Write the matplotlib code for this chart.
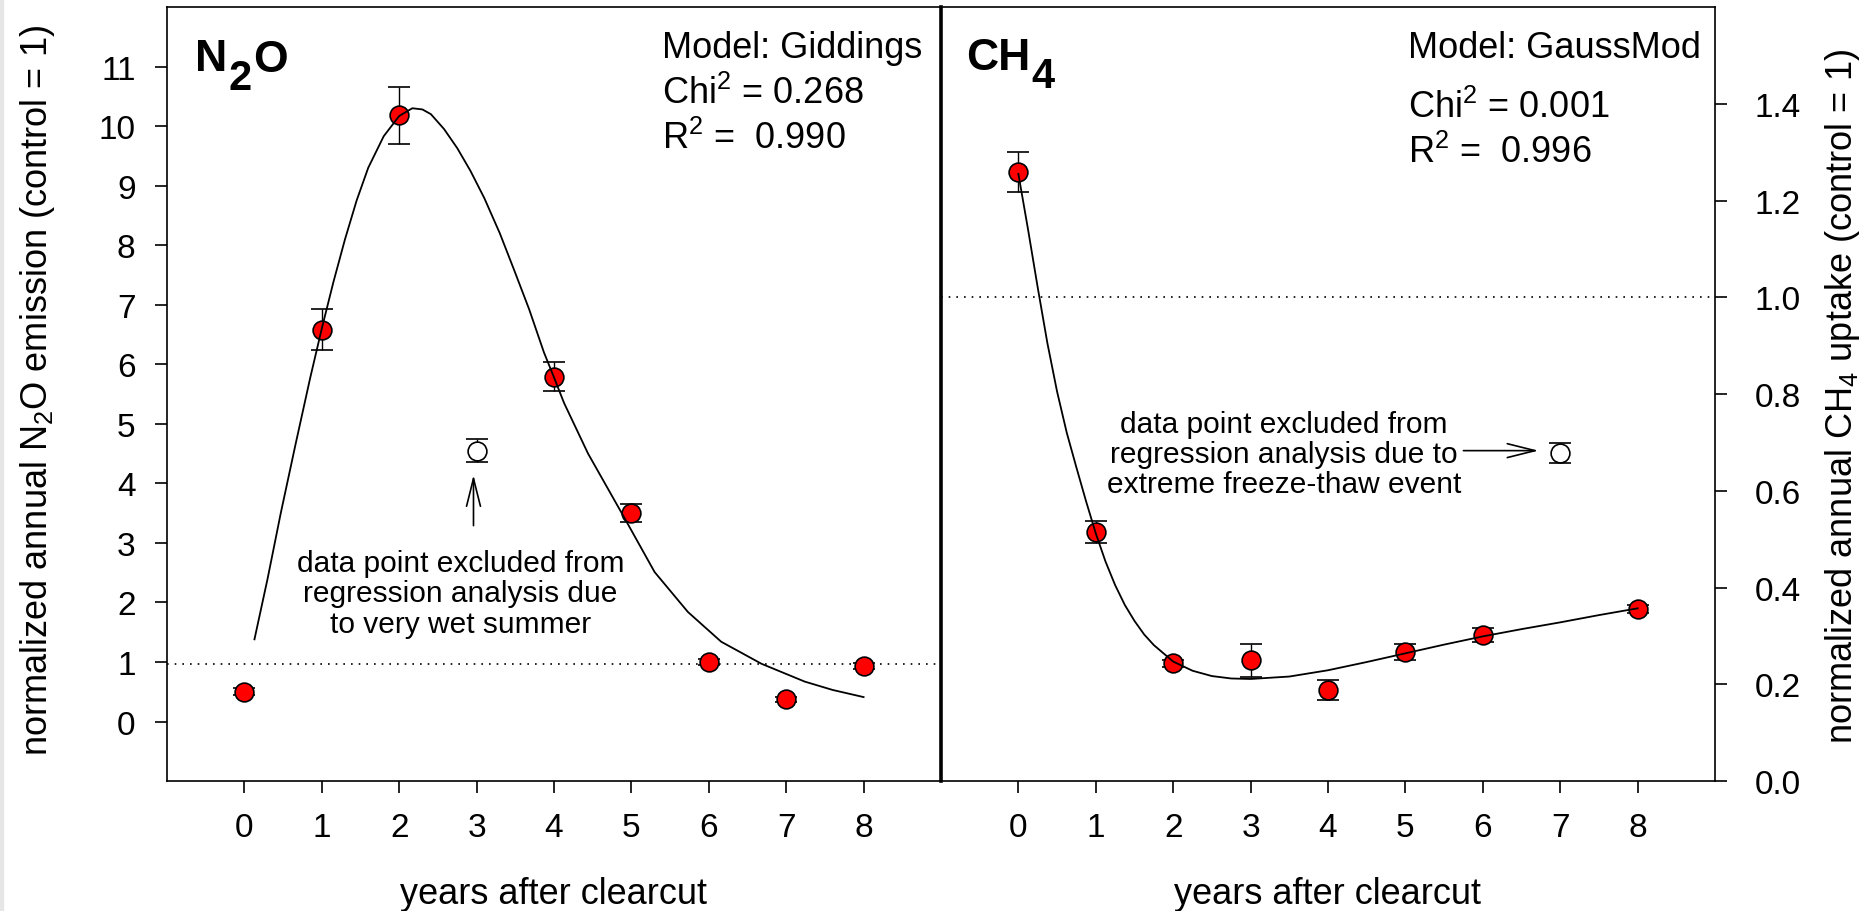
import matplotlib.pyplot as plt
from matplotlib.patches import Rectangle

plt.rcParams['font.family'] = ['Liberation Sans', 'DejaVu Sans']
plt.rcParams['mathtext.fontset'] = 'custom'
plt.rcParams['mathtext.rm'] = 'Liberation Sans'
plt.rcParams['mathtext.it'] = 'Liberation Sans:italic'
plt.rcParams['mathtext.bf'] = 'Liberation Sans:bold'

# N2O panel
n2o_x = [0, 1, 2, 4, 5, 6, 7, 8]
n2o_y = [0.50, 6.58, 10.18, 5.79, 3.50, 1.00, 0.37, 0.93]
n2o_err = [0.06, 0.34, 0.48, 0.24, 0.15, 0.05, 0.04, 0.05]
n2o_excl_x = [3]
n2o_excl_y = [4.55]
n2o_excl_err = [0.19]
n2o_control = 0.96
n2o_fit_x = [0.13, 0.30, 0.47, 0.66, 0.85, 1.00, 1.15, 1.30, 1.45, 1.60, 1.80,
             2.00, 2.17, 2.30, 2.41, 2.58, 2.75, 2.92, 3.10, 3.30, 3.48, 3.68,
             3.87, 4.00, 4.13, 4.44, 4.91, 5.30, 5.73, 6.16, 6.68, 7.24, 7.60, 8.00]
n2o_fit_y = [1.38, 2.40, 3.50, 4.65, 5.77, 6.60, 7.38, 8.10, 8.75, 9.30, 9.83,
             10.17, 10.30, 10.28, 10.20, 9.95, 9.63, 9.25, 8.79, 8.20, 7.60, 6.92,
             6.20, 5.78, 5.35, 4.50, 3.42, 2.51, 1.84, 1.34, 0.97, 0.67, 0.53, 0.41]

# CH4 panel
ch4_x = [0, 1, 2, 3, 4, 5, 6, 8]
ch4_y = [1.259, 0.515, 0.243, 0.250, 0.188, 0.267, 0.302, 0.355]
ch4_err = [0.041, 0.022, 0.008, 0.034, 0.021, 0.016, 0.014, 0.008]
ch4_excl_x = [7]
ch4_excl_y = [0.678]
ch4_excl_err = [0.02]
ch4_control = 1.0
ch4_fit_x = [0.0, 0.125, 0.25, 0.375, 0.5, 0.625, 0.75, 0.875, 1.0, 1.125,
             1.25, 1.375, 1.5, 1.625, 1.75, 2.0, 2.25, 2.5, 2.75, 3.0, 3.5, 4.0,
             4.5, 5.0, 5.5, 6.0, 6.5, 7.0, 7.5, 8.0]
ch4_fit_y = [1.255, 1.14, 1.02, 0.905, 0.805, 0.72, 0.648, 0.578, 0.512, 0.454,
             0.405, 0.364, 0.331, 0.303, 0.281, 0.247, 0.228, 0.217, 0.212, 0.211,
             0.216, 0.229, 0.246, 0.264, 0.282, 0.299, 0.314, 0.328, 0.343, 0.357]

years = [0, 1, 2, 3, 4, 5, 6, 7, 8]

fig = plt.figure(figsize=(18.7, 9.12), dpi=100)
fig.patches.append(Rectangle((0, 0), 3 / 1870, 1, transform=fig.transFigure,
                             color='#e6e6e6', zorder=0))

ax1 = fig.add_axes([0.0893, 0.1425, 0.4139, 0.8487])
ax2 = fig.add_axes([0.5032, 0.1425, 0.4139, 0.8487])

err_kw = dict(fmt='none', ecolor='black', elinewidth=1.0, capsize=8,
              capthick=1.2, zorder=2)
pt_kw = dict(linestyle='none', marker='o', markersize=13.5,
             markeredgecolor='black', markeredgewidth=1.2, zorder=3)
dot_kw = dict(color='black', linewidth=1.2, linestyle=(0, (1, 3.6)), zorder=1)
txt = 21.5

# ---- left: N2O
ax1.axhline(n2o_control, **dot_kw)
ax1.errorbar(n2o_x, n2o_y, yerr=n2o_err, **err_kw)
ax1.errorbar(n2o_excl_x, n2o_excl_y, yerr=n2o_excl_err, **err_kw)
ax1.plot(n2o_x, n2o_y, markerfacecolor='red', **pt_kw)
ax1.plot(n2o_excl_x, n2o_excl_y, markerfacecolor='white', **pt_kw)
ax1.plot(n2o_fit_x, n2o_fit_y, color='black', linewidth=1.3, zorder=4)

ax1.annotate('', xy=(2.96, 4.14), xytext=(2.96, 3.29),
             arrowprops=dict(arrowstyle='->,head_length=1.0,head_width=0.25',
                             lw=1.2, mutation_scale=20, shrinkA=0, shrinkB=0))
ax1.text(2.79, 2.15, 'data point excluded from\nregression analysis due\nto very wet summer',
         ha='center', va='center', fontsize=txt, linespacing=1.1)

ax1.text(0.64, 0.935, 'Model: Giddings', transform=ax1.transAxes, fontsize=26,
         va='baseline')
ax1.text(0.64, 0.876, 'Chi$^2$ = 0.268', transform=ax1.transAxes, fontsize=26,
         va='baseline')
ax1.text(0.64, 0.818, 'R$^2$ =  0.990', transform=ax1.transAxes, fontsize=26,
         va='baseline')

t = ax1.text(0.036, 0.918, 'N', transform=ax1.transAxes, fontsize=32,
             fontweight='bold', va='baseline')
t = ax1.annotate('2', xy=(1, 0), xycoords=t, xytext=(1, -13),
                 textcoords='offset points', fontsize=30, fontweight='bold',
                 va='bottom')
ax1.annotate('O', xy=(1, 1), xycoords=t, xytext=(1, 13),
             textcoords='offset points', fontsize=32, fontweight='bold',
             va='top')

ax1.set_xlim(-1, 9)
ax1.set_ylim(-1, 12)
ax1.set_xticks(years)
ax1.set_yticks(range(0, 12))
ax1.tick_params(axis='both', direction='out', length=8.6, width=1.2,
                labelsize=24, pad=14)
ax1.tick_params(axis='y', right=False)
ax1.set_xlabel('years after clearcut', fontsize=26, va='center')
ax1.xaxis.set_label_coords(0.5, -0.145)
ax1.set_ylabel('normalized annual N$_2$O emission (control = 1)', fontsize=26,
               va='center')
ax1.yaxis.set_label_coords(-0.167, 0.506)
for s in ax1.spines.values():
    s.set_linewidth(1.2)

# ---- right: CH4
ax2.axhline(ch4_control, **dot_kw)
ax2.errorbar(ch4_x, ch4_y, yerr=ch4_err, **err_kw)
ax2.errorbar(ch4_excl_x, ch4_excl_y, yerr=ch4_excl_err, **err_kw)
ax2.plot(ch4_x, ch4_y, markerfacecolor='red', **pt_kw)
ax2.plot(ch4_excl_x, ch4_excl_y, markerfacecolor='white', **pt_kw)
ax2.plot(ch4_fit_x, ch4_fit_y, color='black', linewidth=1.3, zorder=4)

ax2.annotate('', xy=(6.72, 0.683), xytext=(5.75, 0.683),
             arrowprops=dict(arrowstyle='->,head_length=1.0,head_width=0.25',
                             lw=1.2, mutation_scale=20, shrinkA=0, shrinkB=0))
ax2.text(3.43, 0.676, 'data point excluded from\nregression analysis due to\nextreme freeze-thaw event',
         ha='center', va='center', fontsize=txt, linespacing=1.1)

ax2.text(0.603, 0.935, 'Model: GaussMod', transform=ax2.transAxes, fontsize=26,
         va='baseline')
ax2.text(0.603, 0.858, 'Chi$^2$ = 0.001', transform=ax2.transAxes, fontsize=26,
         va='baseline')
ax2.text(0.603, 0.800, 'R$^2$ =  0.996', transform=ax2.transAxes, fontsize=26,
         va='baseline')

t = ax2.text(0.032, 0.92, 'CH', transform=ax2.transAxes, fontsize=32,
             fontweight='bold', va='baseline')
ax2.annotate('4', xy=(1, 0), xycoords=t, xytext=(1, -13),
             textcoords='offset points', fontsize=30, fontweight='bold',
             va='bottom')

ax2.set_xlim(-1, 9)
ax2.set_ylim(0, 1.6)
ax2.set_xticks(years)
ax2.set_yticks([0.0, 0.2, 0.4, 0.6, 0.8, 1.0, 1.2, 1.4])
ax2.set_yticklabels(['0.0', '0.2', '0.4', '0.6', '0.8', '1.0', '1.2', '1.4'])
ax2.yaxis.tick_right()
ax2.tick_params(axis='both', direction='out', length=8.6, width=1.2,
                labelsize=24, pad=14)
ax2.tick_params(axis='y', left=False, pad=20)
ax2.set_xlabel('years after clearcut', fontsize=26, va='center')
ax2.xaxis.set_label_coords(0.5, -0.145)
ax2.yaxis.set_label_position('right')
ax2.set_ylabel('normalized annual CH$_4$ uptake (control = 1)', fontsize=26,
               va='center')
ax2.yaxis.set_label_coords(1.165, 0.4985)
for s in ax2.spines.values():
    s.set_linewidth(1.2)
ax2.spines['left'].set_linewidth(2.6)

fig.savefig('out.png', dpi=100)
